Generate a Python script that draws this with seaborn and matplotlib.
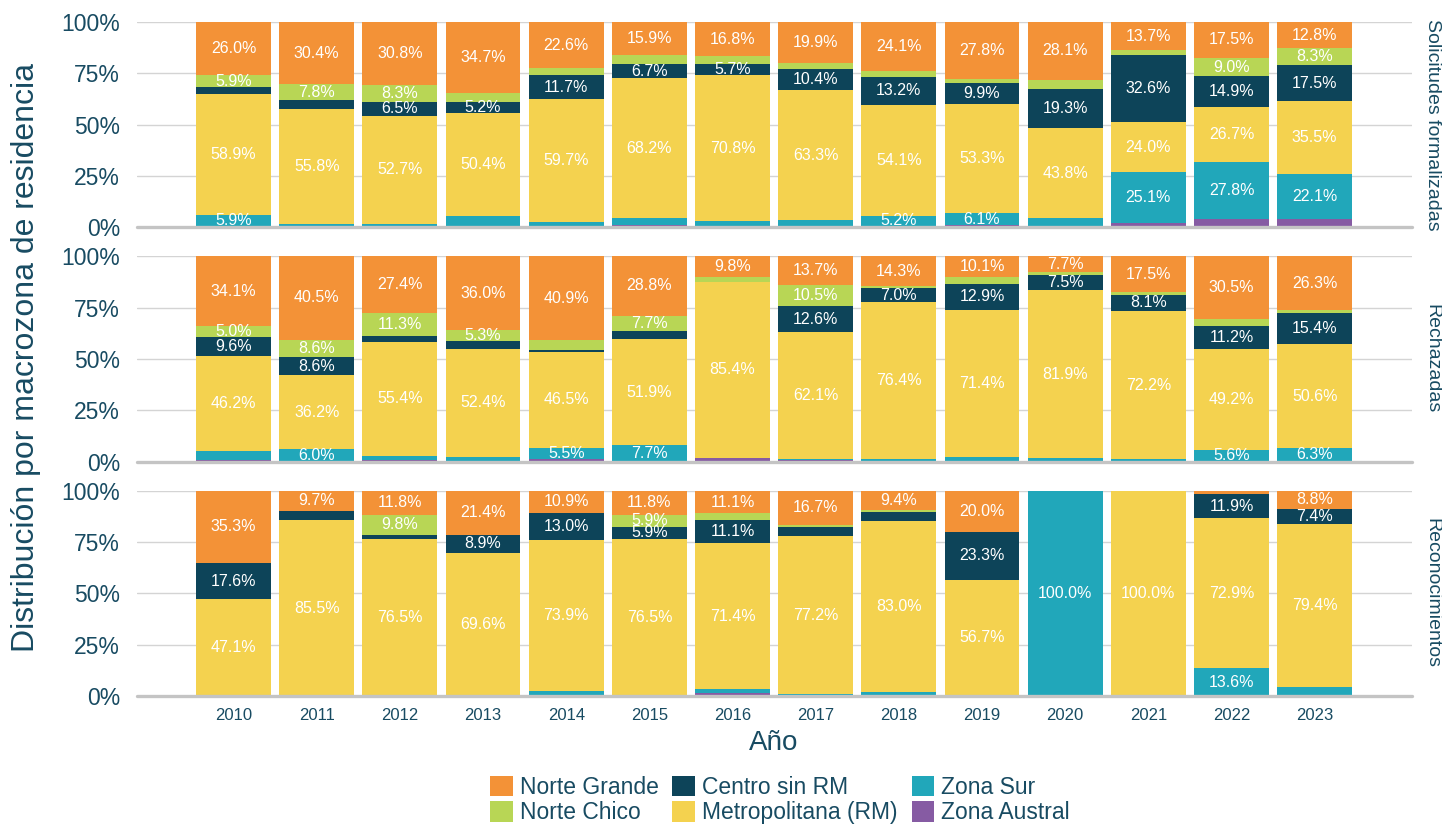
import numpy as np
import pandas as pd
import seaborn as sns
import matplotlib.pyplot as plt
from matplotlib.patches import Patch

# ---- data -------------------------------------------------------------
years = list(range(2010, 2024))
zones = ["Norte Grande", "Norte Chico", "Centro sin RM",
         "Metropolitana (RM)", "Zona Sur", "Zona Austral"]
panels = ["Solicitudes formalizadas", "Rechazadas", "Reconocimientos"]

# Solicitudes formalizadas (% por macrozona)
sol_norte_grande = [26.0, 30.4, 30.8, 34.7, 22.6, 15.9, 16.8, 19.9, 24.1, 27.8, 28.1, 13.7, 17.5, 12.8]
sol_norte_chico = [5.9, 7.8, 8.3, 4.3, 3.3, 4.8, 3.5, 3.0, 2.9, 2.0, 4.4, 2.6, 9.0, 8.3]
sol_centro = [3.1, 4.2, 6.5, 5.2, 11.7, 6.7, 5.7, 10.4, 13.2, 9.9, 19.3, 32.6, 14.9, 17.5]
sol_metro = [58.9, 55.8, 52.7, 50.4, 59.7, 68.2, 70.8, 63.3, 54.1, 53.3, 43.8, 24.0, 26.7, 35.5]
sol_sur = [5.9, 1.6, 1.5, 4.9, 1.9, 3.5, 2.7, 2.9, 5.2, 6.1, 3.8, 25.1, 27.8, 22.1]
sol_austral = [0.2, 0.2, 0.2, 0.5, 0.8, 0.9, 0.5, 0.5, 0.5, 0.9, 0.6, 2.0, 4.1, 3.8]

# Rechazadas
rec_norte_grande = [34.1, 40.5, 27.4, 36.0, 40.9, 28.8, 9.8, 13.7, 14.3, 10.1, 7.7, 17.5, 30.5, 26.3]
rec_norte_chico = [5.0, 8.6, 11.3, 5.3, 4.6, 7.7, 2.6, 10.5, 1.1, 3.2, 1.2, 1.1, 3.3, 1.2]
rec_centro = [9.6, 8.6, 2.9, 3.8, 1.1, 3.7, 0.2, 12.6, 7.0, 12.9, 7.5, 8.1, 11.2, 15.4]
rec_metro = [46.2, 36.2, 55.4, 52.4, 46.5, 51.9, 85.4, 62.1, 76.4, 71.4, 81.9, 72.2, 49.2, 50.6]
rec_sur = [4.4, 6.0, 2.4, 2.1, 5.5, 7.7, 0.4, 0.3, 1.0, 2.2, 1.5, 1.0, 5.6, 6.3]
rec_austral = [0.7, 0.1, 0.6, 0.4, 1.4, 0.2, 1.6, 0.8, 0.2, 0.2, 0.2, 0.1, 0.2, 0.2]

# Reconocimientos
ren_norte_grande = [35.3, 9.7, 11.8, 21.4, 10.9, 11.8, 11.1, 16.7, 9.4, 20.0, 0.0, 0.0, 1.6, 8.8]
ren_norte_chico = [0.0, 0.0, 9.8, 0.0, 0.0, 5.9, 3.2, 0.9, 0.9, 0.0, 0.0, 0.0, 0.0, 0.0]
ren_centro = [17.6, 4.8, 1.9, 8.9, 13.0, 5.9, 11.1, 4.4, 4.7, 23.3, 0.0, 0.0, 11.9, 7.4]
ren_metro = [47.1, 85.5, 76.5, 69.6, 73.9, 76.5, 71.4, 77.2, 83.0, 56.7, 0.0, 100.0, 72.9, 79.4]
ren_sur = [0.0, 0.0, 0.0, 0.0, 2.2, 0.0, 1.6, 0.8, 2.0, 0.0, 100.0, 0.0, 13.6, 4.4]
ren_austral = [0.0, 0.0, 0.0, 0.0, 0.0, 0.0, 1.6, 0.0, 0.0, 0.0, 0.0, 0.0, 0.0, 0.0]

series = {
    "Solicitudes formalizadas": [sol_norte_grande, sol_norte_chico, sol_centro,
                                 sol_metro, sol_sur, sol_austral],
    "Rechazadas": [rec_norte_grande, rec_norte_chico, rec_centro,
                   rec_metro, rec_sur, rec_austral],
    "Reconocimientos": [ren_norte_grande, ren_norte_chico, ren_centro,
                        ren_metro, ren_sur, ren_austral],
}

rows = []
for panel in panels:
    for zone, vals in zip(zones, series[panel]):
        for y, v in zip(years, vals):
            rows.append({"panel": panel, "zona": zone, "year": y, "pct": v})
df = pd.DataFrame(rows)

# ---- style ------------------------------------------------------------
palette = {
    "Norte Grande": "#F39237",
    "Norte Chico": "#B8D655",
    "Centro sin RM": "#0D4459",
    "Metropolitana (RM)": "#F4D24F",
    "Zona Sur": "#21A7BA",
    "Zona Austral": "#865BA3",
}
ink = "#184B62"

sns.set_theme(style="white")
plt.rcParams["font.family"] = ["Liberation Sans", "DejaVu Sans"]

W, H = 1442, 825
fig = plt.figure(figsize=(W / 100, H / 100), dpi=100)

left = 136.7 / W
width = (1412 - 136.7) / W
ph = 205.3 / H
bottoms_px = [227.3, 461.7, 696.0]

for i, panel in enumerate(panels):
    ax = fig.add_axes([left, 1 - bottoms_px[i] / H, width, ph])
    sub = df[df["panel"] == panel]
    sns.histplot(data=sub, x="year", weights="pct", hue="zona",
                 hue_order=zones, palette=palette, multiple="stack",
                 discrete=True, shrink=0.9, linewidth=0, alpha=1,
                 legend=False, ax=ax, zorder=2)

    ax.set_xlim(2008.835, 2024.17)
    ax.set_ylim(0, 100)
    ax.set_yticks([0, 25, 50, 75, 100])
    ax.set_yticklabels(["0%", "25%", "50%", "75%", "100%"])
    ax.yaxis.grid(True, color="#d4d4d4", linewidth=1.0, zorder=0)
    ax.xaxis.grid(False)
    ax.set_axisbelow(True)
    for s in ax.spines.values():
        s.set_visible(False)
    ax.axhline(0, color="#c4c4c4", linewidth=2.4, zorder=3, clip_on=False)
    ax.tick_params(axis="y", length=0, pad=12, labelsize=16.5, labelcolor=ink)
    ax.set_xlabel("")
    ax.set_ylabel("")
    if i == 2:
        ax.set_xticks(years)
        ax.set_xticklabels([str(y) for y in years])
        ax.tick_params(axis="x", length=0, pad=9, labelsize=12, labelcolor=ink)
    else:
        ax.set_xticks([])

    # value labels, stacked from the bottom (Zona Austral) upwards
    vals = series[panel]
    base = np.zeros(len(years))
    for vals_z in vals[::-1]:
        arr = np.array(vals_z)
        for x, b, v in zip(years, base, arr):
            if v >= 5.0:
                ax.text(x, b + v / 2, f"{v:.1f}%", ha="center", va="center",
                        color="white", fontsize=11.5, zorder=4)
        base = base + arr

    # facet strip on the right
    ax.text(1432 / W, 1 - (bottoms_px[i] - ph * H / 2) / H, panel,
            transform=fig.transFigure, rotation=270, ha="center",
            va="center", fontsize=14, color=ink)

fig.text(26 / W, 1 - 357 / H, "Distribución por macrozona de residencia",
         rotation=90, ha="center", va="center", fontsize=23, color=ink)
fig.text(774 / W, 1 - 743 / H, "Año", ha="center", va="center",
         fontsize=20, color=ink)

handles = [Patch(facecolor=palette[z], edgecolor="none", label=z) for z in zones]
fig.legend(handles=handles, ncol=3, loc="center",
           bbox_to_anchor=(780 / W, 1 - 800 / H), frameon=False,
           fontsize=16.5, labelcolor=ink, handlelength=1.0, handleheight=1.0,
           handletextpad=0.3, columnspacing=0.6, labelspacing=0.1,
           borderpad=0.1)

fig.savefig("out.png", dpi=100)
